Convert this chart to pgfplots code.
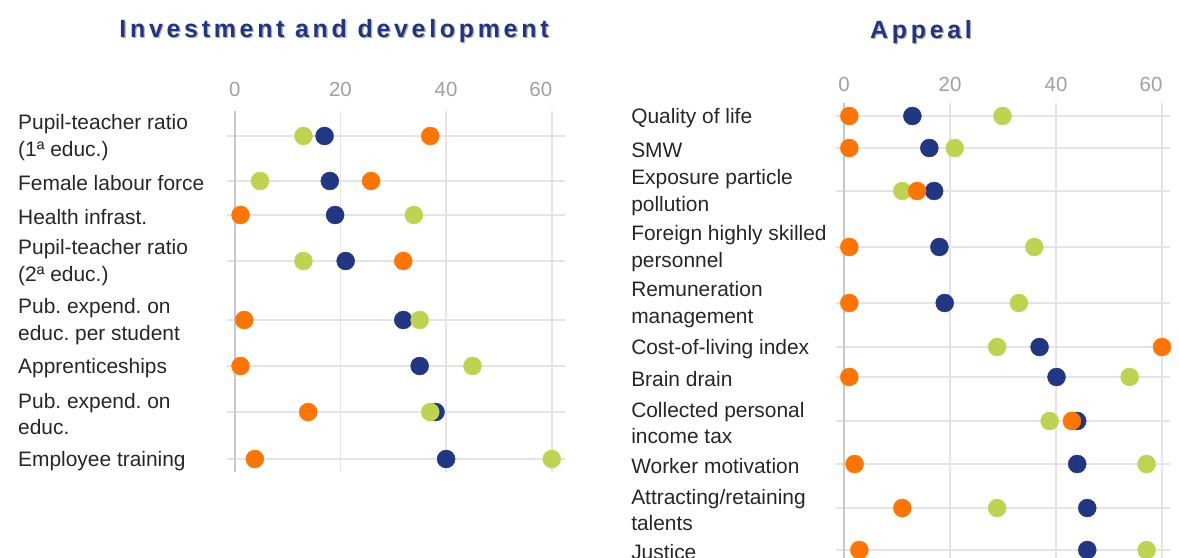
\documentclass[border=0pt]{standalone}
\usepackage{fontspec}
\setmainfont{Liberation Sans}
\newfontfamily\titlefont{Liberation Sans}[LetterSpace=15]
\usepackage{pgfplots}
\usepackage{pgfplotstable}
\pgfplotsset{compat=1.18}
\frenchspacing

\definecolor{cblue}{RGB}{33,55,131}
\definecolor{corange}{RGB}{255,117,0}
\definecolor{cgreen}{RGB}{190,212,80}
\definecolor{titleblue}{RGB}{33,53,133}
\definecolor{gridgray}{RGB}{228,228,228}
\definecolor{zerogray}{RGB}{200,200,200}
\definecolor{tickgray}{RGB}{160,160,160}
\definecolor{labelgray}{RGB}{38,38,38}

% y = minus the pixel row of each category
\pgfplotstableread{
y     blue  orange green
-136  17    37     13
-181  18    25.8   4.8
-215  19    1.1    33.9
-261  21    31.9   13
-320  31.9  1.8    35
-366  35    1.1    45
-412  38    13.9   37
-459  40    3.8    60
}\invdata

\pgfplotstableread{
y     blue  orange green
-116  12.9  1      29.9
-148  16.1  1      20.9
-191  17    13.8   11
-247  18    1      35.9
-303  19    1      33
-347  36.9  60     28.9
-377  40.1  1      53.9
-421  44    43     38.8
-464  44    2      57.1
-508  45.9  11     28.9
-550  45.9  2.9    57.1
}\appdata

\pgfplotsset{
  panel/.style={
    scale only axis,
    clip=false,
    axis line style={draw=none},
    major tick length=0pt,
    xmajorgrids, ymajorgrids,
    grid style={color=gridgray, line width=1.6bp},
    xticklabel pos=upper,
    xtick={20,40,60},
    xticklabels={20,40,\makebox[0pt]{\hspace*{-22bp}60}},
    extra x ticks={0},
    extra x tick labels={0},
    extra x tick style={grid style={color=zerogray, line width=1.6bp}},
    xticklabel style={text=tickgray, anchor=center, font=\fontsize{20.5}{24}\selectfont},
    yticklabel style={text=labelgray, anchor=west, align=left, inner sep=0pt,
      yshift=-2bp, font=\fontsize{21}{27}\selectfont},
    /pgf/number format/assume math mode=true,
  },
  dot/.style={only marks, mark=*, mark size=9bp, color=#1,
    mark options={solid, fill=#1, draw=#1, line width=0.4bp}},
}

\begin{document}
\begin{tikzpicture}
\useasboundingbox (0,0) rectangle (1179bp,-558bp);
\clip (0,0) rectangle (1179bp,-558bp);

\tikzset{ttl/.style={font=\titlefont\bfseries\fontsize{25}{29}\selectfont}}
\node[ttl, text=black!30] at (335.3bp,-32.5bp) {Investment and development};
\node[ttl, text=titleblue] at (334bp,-31bp) {Investment and development};
\node[ttl, text=black!30] at (922.3bp,-33.5bp) {Appeal};
\node[ttl, text=titleblue] at (921bp,-32bp) {Appeal};

\begin{axis}[panel,
  at={(226.8bp,-472bp)}, anchor=south west,
  width=338.2bp, height=361bp,
  xmin=-1.5, xmax=62.5, ymin=-472, ymax=-111,
  ytick={-136,-181,-215,-261,-320,-366,-412,-459},
  yticklabels={{Pupil-teacher ratio\\(1ª educ.)},Female labour force,Health infrast.,
    {Pupil-teacher ratio\\(2ª educ.)},{Pub. expend. on\\educ. per student},Apprenticeships,
    {Pub. expend. on\\educ.},Employee training},
  yticklabel style={xshift=-208.8bp},
  xticklabel style={yshift=22bp},
]
\addplot[dot=cblue] table[x=blue, y=y] {\invdata};
\addplot[dot=cgreen] table[x=green, y=y] {\invdata};
\addplot[dot=corange] table[x=orange, y=y] {\invdata};
\end{axis}

\begin{axis}[panel,
  at={(836.05bp,-600bp)}, anchor=south west,
  width=333.9bp, height=497bp,
  xmin=-1.5, xmax=61.5, ymin=-600, ymax=-103,
  ytick={-116,-148,-191,-247,-303,-347,-377,-421,-464,-508,-550},
  yticklabels={Quality of life,SMW,{Exposure particle\\pollution},{Foreign highly skilled\\personnel},
    {Remuneration\\management},Cost-of-living index,Brain drain,{Collected personal\\income tax},
    Worker motivation,{Attracting/retaining\\talents},Justice},
  yticklabel style={xshift=-205bp},
  xticklabel style={yshift=19bp},
]
\addplot[dot=cblue] table[x=blue, y=y] {\appdata};
\addplot[dot=cgreen] table[x=green, y=y] {\appdata};
\addplot[dot=corange] table[x=orange, y=y] {\appdata};
\end{axis}
\end{tikzpicture}
\end{document}
